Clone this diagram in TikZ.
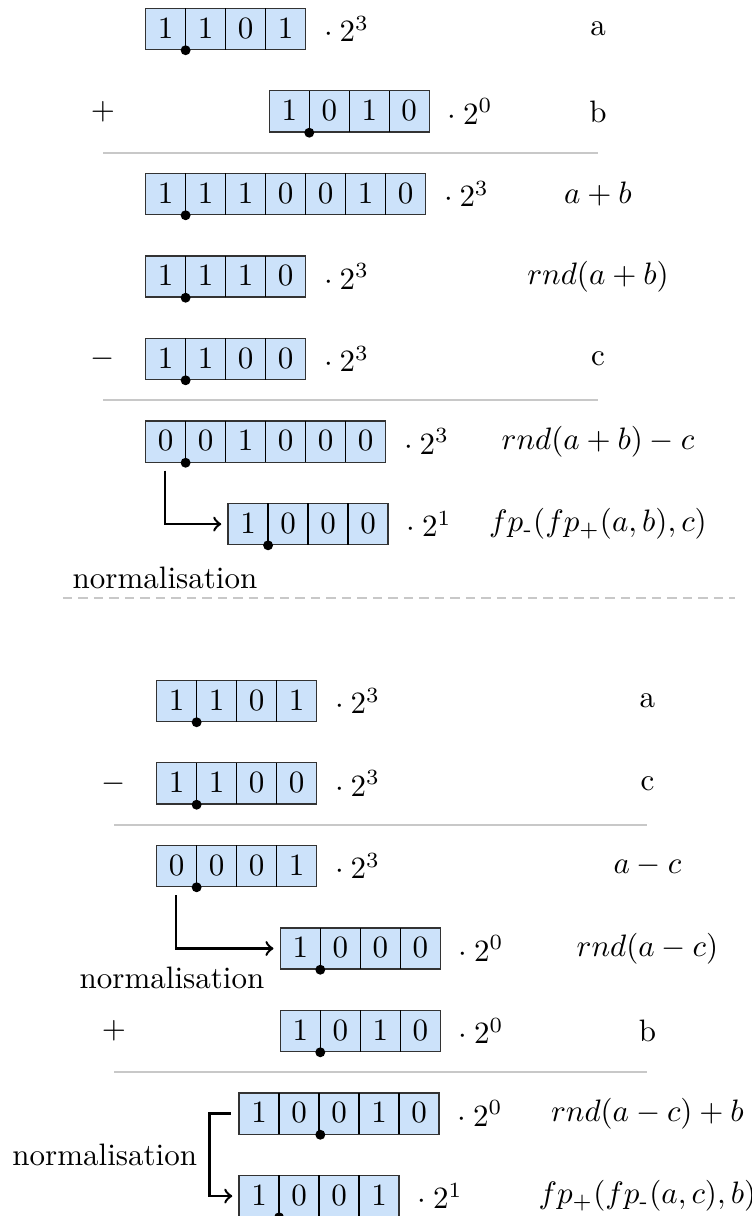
\documentclass[tikz,border=0pt]{standalone}
\usepackage{amsmath}
\usepackage{tikz}
\usetikzlibrary{positioning}
\definecolor{bitfill}{RGB}{204,226,250}
\definecolor{rulegray}{RGB}{200,200,200}
\newcommand{\bits}[2]{{\setlength{\tabcolsep}{3.95pt}\begin{tabular}{c*{#1}{|c}}\rule[-3.6pt]{0pt}{13.3pt}#2\end{tabular}}}
\newcommand{\expo}[1]{${}\cdot{}2^{#1}$}
\tikzset{
  bitbox/.style={draw=black!80, fill=bitfill, inner sep=0pt, anchor=west},
  expo/.style={right=0pt of #1},
  sumline/.style={draw=rulegray, line width=0.7pt},
}

\begin{document}
\begin{tikzpicture}[auto]
        \useasboundingbox (0,0) rectangle (8.515,-13.787);
        % first order: (a + b) - c
        \node[bitbox] (U1) at (1.644, -0.329) {\bits{3}{1&1&0&1}};
        \node[bitbox] (U2) at (3.046, -1.264) {\bits{3}{1&0&1&0}};
        \node[bitbox] (U3) at (1.644, -2.200) {\bits{6}{1&1&1&0&0&1&0}};
        \node[bitbox] (U4) at (1.644, -3.135) {\bits{3}{1&1&1&0}};
        \node[bitbox] (U5) at (1.644, -4.071) {\bits{3}{1&1&0&0}};
        \node[bitbox] (U6) at (1.644, -5.006) {\bits{5}{0&0&1&0&0&0}};
        \node[bitbox] (U7) at (2.579, -5.942) {\bits{3}{1&0&0&0}};
        \node[expo=U1] (U1e) {\expo{3}};
        \node[expo=U2] (U2e) {\expo{0}};
        \node[expo=U3] (U3e) {\expo{3}};
        \node[expo=U4] (U4e) {\expo{3}};
        \node[expo=U5] (U5e) {\expo{3}};
        \node[expo=U6] (U6e) {\expo{3}};
        \node[expo=U7] (U7e) {\expo{1}};
        \node (U1t) at (6.780, -0.329) {a};
        \node (U2t) at (6.780, -1.264) {b};
        \node (U3t) at (6.780, -2.200) {$a+b$};
        \node (U4t) at (6.780, -3.135) {$rnd(a+b)$};
        \node (U5t) at (6.780, -4.071) {c};
        \node (U6t) at (6.780, -5.006) {$rnd(a+b)-c$};
        \node (U7t) at (6.780, -5.942) {$fp_{\text{-}}(fp_+(a,b),c)$};
        \node (Uplus) at (1.168, -1.264) {$+$};
        \node (Uminus) at (1.168, -4.071) {$-$};
        \draw[sumline] (1.168, -1.735) -- (6.780, -1.735);
        \draw[sumline] (1.168, -4.535) -- (6.780, -4.535);
        \fill ([xshift=13.1pt]U1.south west) circle (1.6pt);
        \fill ([xshift=13.1pt]U2.south west) circle (1.6pt);
        \fill ([xshift=13.1pt]U3.south west) circle (1.6pt);
        \fill ([xshift=13.1pt]U4.south west) circle (1.6pt);
        \fill ([xshift=13.1pt]U5.south west) circle (1.6pt);
        \fill ([xshift=13.1pt]U6.south west) circle (1.6pt);
        \fill ([xshift=13.1pt]U7.south west) circle (1.6pt);
        \coordinate (U6n) at ([xshift=6.45pt, yshift=-2.5pt]U6.south west);
        \draw[->, thick, shorten >=2pt] (U6n) |- (U7);
        \node (N1) at (1.871, -6.553) {normalisation};
        \draw[rulegray, line width=0.7pt, dash pattern=on 3pt off 2pt] (0.714, -6.780) -- (8.333, -6.780);
        % second order: (a - c) + b
        \node[bitbox] (L1) at (1.769, -7.948) {\bits{3}{1&1&0&1}};
        \node[bitbox] (L2) at (1.769, -8.883) {\bits{3}{1&1&0&0}};
        \node[bitbox] (L3) at (1.769, -9.819) {\bits{3}{0&0&0&1}};
        \node[bitbox] (L4) at (3.171, -10.754) {\bits{3}{1&0&0&0}};
        \node[bitbox] (L5) at (3.171, -11.690) {\bits{3}{1&0&1&0}};
        \node[bitbox] (L6) at (2.704, -12.625) {\bits{4}{1&0&0&1&0}};
        \node[bitbox] (L7) at (2.704, -13.561) {\bits{3}{1&0&0&1}};
        \node[expo=L1] (L1e) {\expo{3}};
        \node[expo=L2] (L2e) {\expo{3}};
        \node[expo=L3] (L3e) {\expo{3}};
        \node[expo=L4] (L4e) {\expo{0}};
        \node[expo=L5] (L5e) {\expo{0}};
        \node[expo=L6] (L6e) {\expo{0}};
        \node[expo=L7] (L7e) {\expo{1}};
        \node (L1t) at (7.340, -7.948) {a};
        \node (L2t) at (7.340, -8.883) {c};
        \node (L3t) at (7.340, -9.819) {$a-c$};
        \node (L4t) at (7.340, -10.754) {$rnd(a-c)$};
        \node (L5t) at (7.340, -11.690) {b};
        \node (L6t) at (7.340, -12.625) {$rnd(a-c)+b$};
        \node (L7t) at (7.340, -13.561) {$fp_+(fp_{\text{-}}(a,c),b)$};
        \node (Lminus) at (1.293, -8.883) {$-$};
        \node (Lplus) at (1.293, -11.690) {$+$};
        \draw[sumline] (1.293, -9.354) -- (7.340, -9.354);
        \draw[sumline] (1.293, -12.154) -- (7.340, -12.154);
        \fill ([xshift=13.1pt]L1.south west) circle (1.6pt);
        \fill ([xshift=13.1pt]L2.south west) circle (1.6pt);
        \fill ([xshift=13.1pt]L3.south west) circle (1.6pt);
        \fill ([xshift=13.1pt]L4.south west) circle (1.6pt);
        \fill ([xshift=13.1pt]L5.south west) circle (1.6pt);
        \fill ([xshift=26.4pt]L6.south west) circle (1.6pt);
        \fill ([xshift=13.1pt]L7.south west) circle (1.6pt);
        \coordinate (L3n) at ([xshift=6.45pt, yshift=-2.5pt]L3.south west);
        \draw[->, thick, shorten >=2pt] (L3n) |- (L4);
        \node (N2) at (1.950, -11.088) {normalisation};
        \coordinate (L6w) at ([xshift=-2.5pt]L6.west);
        \draw[->, thick, shorten >=2pt] (L6w) -- ++(-0.24, 0) coordinate (L6c) |- (L7);
        \node[anchor=east] (N3) at (2.358, -13.093) {normalisation};
      \end{tikzpicture}
\end{document}
